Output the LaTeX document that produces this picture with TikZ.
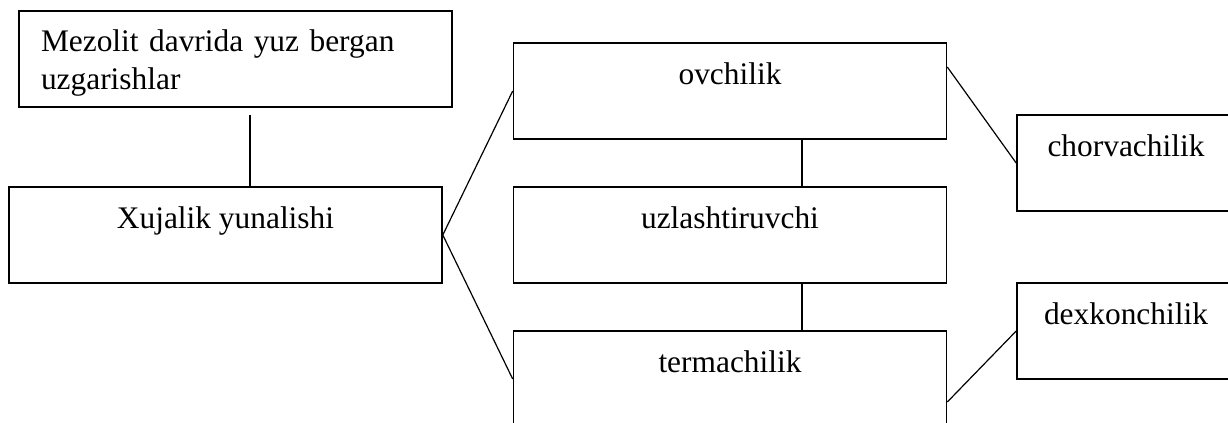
\documentclass[tikz,border=0pt]{standalone}
\usepackage{fontspec}
\setmainfont{Liberation Serif}

\begin{document}
\begin{tikzpicture}[x=0.5pt, y=-0.5pt,
	kasten/.style={draw, line width=0.8pt, inner sep=0pt, text height=20.5pt, text depth=27.5pt, minimum height=48pt},
	breit/.style={kasten, minimum width=216.5pt},
	schmal/.style={kasten, minimum width=109pt},
	verb/.style={line width=0.6pt}]
	\fontsize{15.7pt}{19.5pt}\selectfont
	\clip (0,0) rectangle (1228,423);
	\node at (235.5,59) [breit, inner xsep=11pt, text width=194.5pt, align=left, text height=20pt, text depth=28pt] (mezolit) {Mezolit davrida yuz bergan\\uzgarishlar};
	\node at (225.5,235) [breit] (xujalik) {Xujalik yunalishi};
	\node at (730,91) [breit] (ovchi) {ovchilik};
	\node at (730,235) [breit] (uzlash) {uzlashtiruvchi};
	\node at (730,379) [breit] (terma) {termachilik};
	\node at (1126,163) [schmal] (chorva) {chorvachilik};
	\node at (1126,331) [schmal] (dexkon) {dexkonchilik};
	\draw[verb] ([xshift=7.25pt,yshift=-3.5pt]mezolit.south) -- ([xshift=12.25pt]xujalik.north);
	\draw[verb] (ovchi.west) -- (xujalik.east) -- (terma.west);
	\draw[verb] ([xshift=36pt]ovchi.south) -- ([xshift=36pt]uzlash.north);
	\draw[verb] ([xshift=36pt]uzlash.south) -- ([xshift=36pt]terma.north);
	\draw[verb] ([yshift=12pt]ovchi.east) -- (chorva.west);
	\draw[verb] ([yshift=-11.5pt]terma.east) -- (dexkon.west);
\end{tikzpicture}
\end{document}
